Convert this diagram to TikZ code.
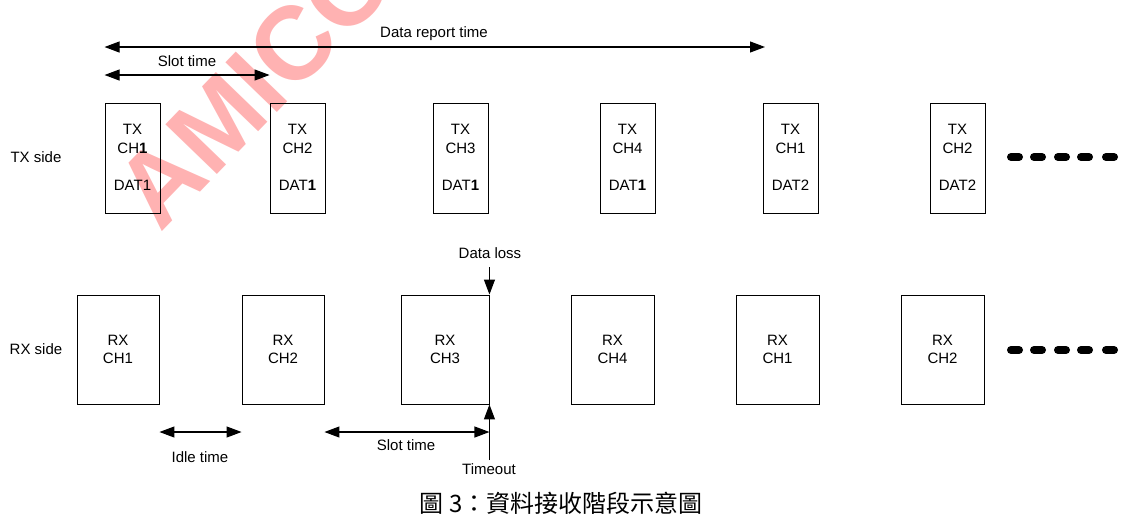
\documentclass[tikz,border=0pt]{standalone}
\usepackage{fontspec}
\setmainfont{Liberation Sans}
\newfontfamily\cjk{Noto Sans CJK TC}
\usetikzlibrary{arrows.meta}
\definecolor{wm}{RGB}{255,178,178}
\begin{document}
\begin{tikzpicture}[x=1pt,y=-1pt,
  every node/.style={font=\fontsize{15}{18}\selectfont, inner sep=0pt},
  txbox/.style={draw, line width=0.9pt, minimum width=55pt, minimum height=110pt},
  rxbox/.style={draw, line width=0.9pt, minimum height=109pt},
  dim/.style={line width=1.1pt, {Triangle[length=15pt,width=11pt]}-{Triangle[length=15pt,width=11pt]}},
  onearrow/.style={line width=1.1pt, -{Triangle[length=15pt,width=11pt]}},
  dots/.style={line width=8pt, line cap=round},
  lbl/.style={anchor=center}]
\useasboundingbox (0,0) rectangle (1126,523);
% watermark
\node[anchor=base west, rotate=46, text=wm, font=\fontsize{104}{104}\selectfont\bfseries] (wmk) at (160,234) {AMICO};
% TX boxes
\node[txbox] (tx1) at (132.5,158) {};
\node[txbox] (tx2) at (297.5,158) {};
\node[txbox] (tx3) at (460.5,158) {};
\node[txbox] (tx4) at (627.5,158) {};
\node[txbox] (tx5) at (790.5,158) {};
\node[txbox] (tx6) at (957.5,158) {};
\foreach \x/\c/\d [count=\i] in {132.5/CH\textbf{1}/DAT1, 297.5/CH2/DAT\textbf{1}, 460.5/CH3/DAT\textbf{1}, 627.5/CH4/DAT\textbf{1}, 790.5/CH1/DAT2, 957.5/CH2/DAT2}{
  \node[lbl] (txa\i) at (\x,129) {TX};
  \node[lbl] (txb\i) at (\x,148) {\c};
  \node[lbl] (txc\i) at (\x,185) {\d};
}
% RX boxes
\node[rxbox, minimum width=82pt] (rx1) at (118,349.5) {};
\node[rxbox, minimum width=82pt] (rx2) at (283,349.5) {};
\node[rxbox, minimum width=88pt] (rx3) at (445,349.5) {};
\node[rxbox, minimum width=83pt] (rx4) at (612.5,349.5) {};
\node[rxbox, minimum width=83pt] (rx5) at (777.5,349.5) {};
\node[rxbox, minimum width=83pt] (rx6) at (942.5,349.5) {};
\foreach \x/\c [count=\i] in {118/CH1, 283/CH2, 445/CH3, 612.5/CH4, 777.5/CH1, 942.5/CH2}{
  \node[lbl] (rxa\i) at (\x,340) {RX};
  \node[lbl] (rxb\i) at (\x,358) {\c};
}
% side labels
\node[lbl] (txside) at (36,157) {TX side};
\node[lbl] (rxside) at (36,349) {RX side};
% top dimension arrows
\coordinate (drL) at (tx1.west |- 0,47);
\coordinate (drR) at (765,47);
\draw[dim] (drL) -- (drR);
\node[lbl] (drt) at (434,34) {Data report time};
\coordinate (stL) at (tx1.west |- 0,75);
\coordinate (stR) at (tx2.west |- 0,75);
\draw[dim] (stL) -- (stR);
\node[lbl] (stt) at (187,61) {Slot time};
% bottom dimension arrows
\coordinate (idL) at (rx1.east |- 0,432);
\coordinate (idR) at (rx2.west |- 0,432);
\draw[dim] (idL) -- (idR);
\node[lbl] (idt) at (200,457) {Idle time};
\coordinate (sbL) at (rx2.east |- 0,432);
\coordinate (sbR) at (rx3.east |- 0,432);
\draw[dim] (sbL) -- (sbR);
\node[lbl] (sbt) at (406,445) {Slot time};
% data loss / timeout
\coordinate (dlTop) at (rx3.east |- 0,267);
\draw[onearrow] (dlTop) -- (rx3.north east);
\node[lbl] (dlt) at (490,253) {Data loss};
\coordinate (toBot) at (rx3.east |- 0,460);
\draw[onearrow] (toBot) -- (rx3.south east);
\node[lbl] (tot) at (489,469) {Timeout};
% continuation dashes
\foreach \y in {157,350}{
  \foreach \x in {1011,1034,1058,1081,1106}{
    \draw[dots] (\x,\y) -- ++(8,0);
  }
}
% caption
\node[lbl, font=\fontsize{24}{28}\selectfont] (cap) at (561,503) {\cjk 圖 3：資料接收階段示意圖};
\end{tikzpicture}
\end{document}
